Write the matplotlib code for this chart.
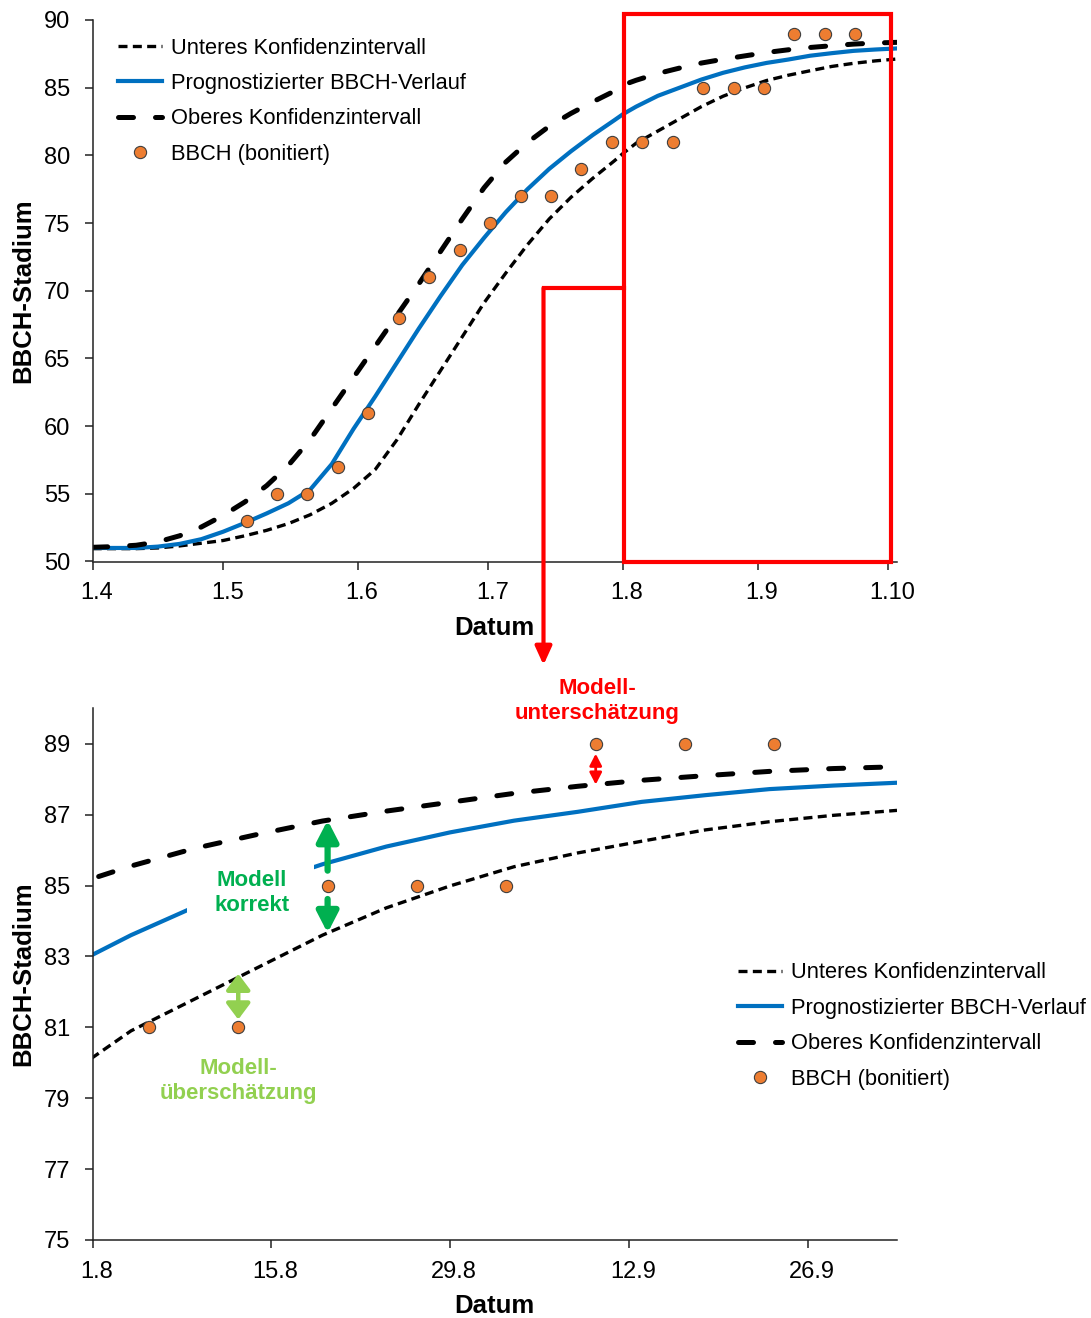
import numpy as np
import matplotlib
matplotlib.use('Agg')
import matplotlib.pyplot as plt
from matplotlib.lines import Line2D
from matplotlib.patches import Rectangle, FancyArrowPatch
import matplotlib.transforms as mtransforms

plt.rcParams['font.family'] = ['Liberation Sans', 'DejaVu Sans']

# ---------------- data (x = days since 1 April) ----------------
curve_days = [0, 5, 10, 15, 20, 25, 30, 35, 40, 45, 50, 55, 60, 65, 70, 75, 80, 85, 90, 95,
              100, 105, 110, 115, 120, 122, 125, 130, 135, 140, 145, 150, 155, 160, 165, 170,
              175, 180, 185]
pred = [51.0, 51.0, 51.0, 51.1, 51.3, 51.65, 52.2, 52.85, 53.55, 54.3, 55.3, 57.2, 59.8, 62.2,
        64.7, 67.2, 69.6, 71.9, 73.9, 75.8, 77.5, 79.0, 80.3, 81.5, 82.6, 83.05, 83.6, 84.4,
        85.0, 85.6, 86.1, 86.5, 86.83, 87.08, 87.36, 87.55, 87.72, 87.82, 87.9]
upper = [51.05, 51.1, 51.2, 51.45, 51.9, 52.55, 53.4, 54.4, 55.6, 57.1, 59.0, 61.3, 63.6, 65.9,
         68.2, 70.5, 72.9, 75.3, 77.6, 79.5, 80.95, 82.15, 83.1, 83.95, 84.75, 85.2, 85.55,
         86.05, 86.45, 86.82, 87.1, 87.35, 87.6, 87.8, 87.97, 88.1, 88.22, 88.3, 88.35]
lower = [50.95, 50.95, 50.95, 51.0, 51.15, 51.35, 51.55, 51.9, 52.3, 52.8, 53.45, 54.3, 55.4,
         56.8, 59.0, 61.6, 64.1, 66.6, 69.1, 71.3, 73.4, 75.3, 76.9, 78.3, 79.6, 80.15, 80.9,
         81.8, 82.7, 83.6, 84.37, 84.99, 85.53, 85.92, 86.25, 86.57, 86.8, 86.98, 87.12]
obs_days = [35.4, 42.4, 49.4, 56.4, 63.4, 70.4, 77.4, 84.4, 91.4, 98.4, 105.4, 112.4, 119.4,
            126.4, 133.4, 140.4, 147.4, 154.4, 161.4, 168.4, 175.4]
obs_bbch = [53, 55, 55, 57, 61, 68, 71, 73, 75, 77, 77, 79, 81, 81, 81, 85, 85, 85, 89, 89, 89]

top_tick_days = [0, 30, 61, 91, 122, 153, 183]
top_tick_labels = ['1.4', '1.5', '1.6', '1.7', '1.8', '1.9', '1.10']
bot_tick_days = [122, 136, 150, 164, 178]
bot_tick_labels = ['1.8', '15.8', '29.8', '12.9', '26.9']
top_yticks = list(range(50, 91, 5))
bot_yticks = list(range(75, 90, 2))

labels = ['Unteres Konfidenzintervall', 'Prognostizierter BBCH-Verlauf',
          'Oberes Konfidenzintervall', 'BBCH (bonitiert)']

# ---------------- figure ----------------
W, H = 1091, 1318
fig = plt.figure(figsize=(W / 100, H / 100), dpi=100)


def fx(px):
    return px / W


def fy(py):
    return 1 - py / H


ax1 = fig.add_axes([fx(92.7), fy(561.5), fx(897) - fx(92.7), fy(20) - fy(561.5)])
ax2 = fig.add_axes([fx(92.7), fy(1240), fx(897) - fx(92.7), fy(708.3) - fy(1240)])

BLUE = '#0070C0'
ORANGE = '#ED7D31'


def draw(ax):
    l1, = ax.plot(curve_days, lower, color='black', lw=2.4, dashes=(2.7, 1.6),
                  dash_capstyle='butt', label=labels[0])
    l2, = ax.plot(curve_days, pred, color=BLUE, lw=3.0, label=labels[1])
    l3, = ax.plot(curve_days, upper, color='black', lw=3.6, dashes=(3.0, 4.4),
                  dash_capstyle='round', label=labels[2])
    l4, = ax.plot(obs_days, obs_bbch, ls='none', marker='o', ms=8.8, mfc=ORANGE,
                  mec='#3f3f3f', mew=0.8, label=labels[3])
    for s in ['top', 'right']:
        ax.spines[s].set_visible(False)
    for s in ['left', 'bottom']:
        ax.spines[s].set_linewidth(1.1)
        ax.spines[s].set_color('#222222')
    ax.tick_params(direction='out', length=6, width=1.1, labelsize=17, color='#222222')
    ax.tick_params(axis='y', pad=10)
    ax.tick_params(axis='x', pad=9)
    ax.set_xlabel('Datum', fontsize=18.5, fontweight='bold')
    ax.set_ylabel('BBCH-Stadium', fontsize=18.5, fontweight='bold')
    return [l1, l2, l3, l4]


h1 = draw(ax1)
ax1.set_xlim(0, 185)
ax1.set_ylim(50, 90)
ax1.set_xticks(top_tick_days)
ax1.set_xticklabels(top_tick_labels)
ax1.set_yticks(top_yticks)
ax1.yaxis.set_label_coords(-0.0717, 0.5)
ax1.xaxis.set_label_coords(0.5, -0.1004)

h2 = draw(ax2)
ax2.set_xlim(122, 185)
ax2.set_ylim(75, 90)
ax2.set_xticks(bot_tick_days)
ax2.set_xticklabels(bot_tick_labels)
ax2.set_yticks(bot_yticks)
ax2.yaxis.set_label_coords(-0.0717, 0.5)
ax2.xaxis.set_label_coords(0.5, -0.1016)

offset = mtransforms.ScaledTranslation(0.04, 0, fig.dpi_scale_trans)
for ax in (ax1, ax2):
    for lab in ax.get_xticklabels():
        lab.set_transform(lab.get_transform() + offset)

leg_kw = dict(loc='upper left', frameon=False, fontsize=15.75, handlelength=2.0,
              handletextpad=0.42, labelspacing=0.66, borderpad=0, borderaxespad=0,
              numpoints=1, bbox_transform=fig.transFigure)
ax1.legend(h1, labels, bbox_to_anchor=(fx(118), fy(37.5)), **leg_kw)
ax2.legend(h2, labels, bbox_to_anchor=(fx(738), fy(962.5)), **leg_kw)

# ---------------- annotations (bottom chart) ----------------
GREEN = '#00B050'
LGREEN = '#92D050'
d_ok, d_over, d_under = obs_days[15], obs_days[14], obs_days[18]
v_ok, v_over, v_under = obs_bbch[15], obs_bbch[14], obs_bbch[18]
up_ok = np.interp(d_ok, curve_days, upper)
lo_ok = np.interp(d_ok, curve_days, lower)
lo_over = np.interp(d_over, curve_days, lower)
up_under = np.interp(d_under, curve_days, upper)

ax2.annotate('', xy=(d_ok, up_ok), xytext=(d_ok, v_ok + 0.42),
             arrowprops=dict(arrowstyle='-|>,head_length=0.62,head_width=0.32', color=GREEN,
                             lw=4.5, shrinkA=0, shrinkB=0, mutation_scale=20))
ax2.annotate('', xy=(d_ok, lo_ok), xytext=(d_ok, v_ok - 0.38),
             arrowprops=dict(arrowstyle='-|>,head_length=0.62,head_width=0.32', color=GREEN,
                             lw=4.5, shrinkA=0, shrinkB=0, mutation_scale=20))
ax2.annotate('', xy=(d_over, lo_over + 0.1), xytext=(d_over, v_over + 0.22),
             arrowprops=dict(arrowstyle='<|-|>,head_length=0.48,head_width=0.36', color=LGREEN,
                             lw=3.2, shrinkA=0, shrinkB=0, mutation_scale=20))
ax2.annotate('', xy=(d_under, up_under), xytext=(d_under, v_under - 0.28),
             arrowprops=dict(arrowstyle='<|-|>,head_length=0.35,head_width=0.18', color='red',
                             lw=2, shrinkA=0, shrinkB=0, mutation_scale=20))

fig.add_artist(Rectangle((fx(187), fy(928)), fx(314) - fx(187), fy(858) - fy(928),
                         transform=fig.transFigure, facecolor='white', edgecolor='none',
                         zorder=2))
fig.text(fx(252), fy(893), 'Modell\nkorrekt', color=GREEN, fontsize=16, fontweight='bold',
         ha='center', va='center', zorder=3)
fig.text(fx(597), fy(701), 'Modell-\nunterschätzung', color='#FF0000', fontsize=16,
         fontweight='bold', ha='center', va='center', zorder=3)
fig.text(fx(238), fy(1081), 'Modell-\nüberschätzung', color=LGREEN, fontsize=16,
         fontweight='bold', ha='center', va='center', zorder=3)

# ---------------- zoom frame and connector ----------------
fig.add_artist(Rectangle((fx(623.5), fy(561.5)), fx(891) - fx(623.5), fy(14) - fy(561.5),
                         transform=fig.transFigure, fill=False, edgecolor='#FF0000', lw=3,
                         zorder=4))
fig.add_artist(Line2D([fx(623.5), fx(543.5)], [fy(288), fy(288)], transform=fig.transFigure,
                      color='#FF0000', lw=3, solid_capstyle='projecting', zorder=4))
fig.add_artist(FancyArrowPatch((fx(543.5), fy(288)), (fx(543.5), fy(665)),
                               transform=fig.transFigure, color='#FF0000', lw=3,
                               arrowstyle='-|>,head_length=0.55,head_width=0.25',
                               mutation_scale=20, shrinkA=0, shrinkB=0, zorder=4))

fig.savefig('out.png', dpi=100)
